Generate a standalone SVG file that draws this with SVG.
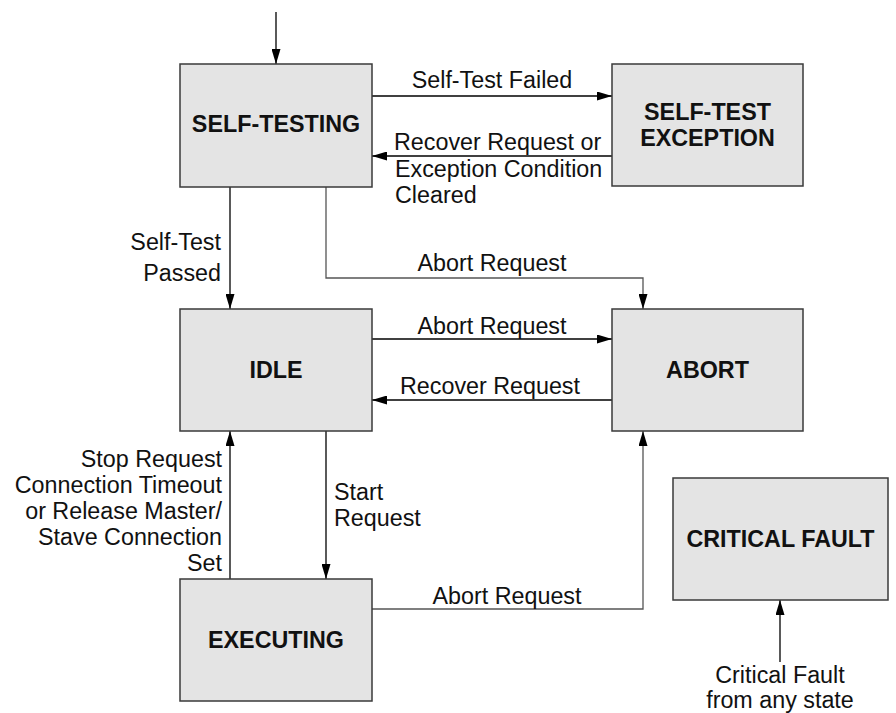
<svg xmlns="http://www.w3.org/2000/svg" width="896" height="713" viewBox="0 0 896 713">
<defs>
<marker id="ah" markerUnits="userSpaceOnUse" markerWidth="15" markerHeight="9" refX="15" refY="4.5" orient="auto"><path d="M0,0 L15,4.5 L0,9 z" fill="#000"/></marker>
</defs>
<style>
.node rect{fill:#e4e4e4;stroke:#3a3a3a;stroke-width:1.5}
.node text{font-family:"Liberation Sans",Arial,sans-serif;font-weight:bold;font-size:23.3px;text-anchor:middle;fill:#111}
.edge{fill:none;stroke:#000;stroke-width:1.3;marker-end:url(#ah)}
.edge.gray{stroke:#555}
.lbl{font-family:"Liberation Sans",Arial,sans-serif;font-size:23.3px;fill:#111}
.mid{text-anchor:middle}
.end{text-anchor:end}
</style>
<rect width="896" height="713" fill="#fff"/>
<g id="connectors">
<path class="edge" d="M276,12 V64"/>
<path class="edge" d="M372,96 H612"/>
<path class="edge" d="M612,156 H372"/>
<path class="edge" d="M230,187 V309"/>
<path class="edge gray" d="M326,187 V278 H643 V309"/>
<path class="edge" d="M372,339 H612"/>
<path class="edge" d="M612,400 H372"/>
<path class="edge" d="M326,431 V579"/>
<path class="edge" d="M230,579 V431"/>
<path class="edge gray" d="M372,609 H643 V431"/>
<path class="edge" d="M780,662 V600"/>
<text class="lbl mid" x="492" y="88">Self-Test Failed</text>
<text class="lbl" x="394" y="150">Recover Request or</text>
<text class="lbl" x="395" y="177">Exception Condition</text>
<text class="lbl" x="395" y="203">Cleared</text>
<text class="lbl end" x="221" y="250">Self-Test</text>
<text class="lbl end" x="221" y="281">Passed</text>
<text class="lbl mid" x="492" y="271">Abort Request</text>
<text class="lbl mid" x="492" y="334">Abort Request</text>
<text class="lbl mid" x="490" y="394">Recover Request</text>
<text class="lbl end" x="222" y="467">Stop Request</text>
<text class="lbl end" x="222" y="493">Connection Timeout</text>
<text class="lbl end" x="222" y="519">or Release Master/</text>
<text class="lbl end" x="222" y="545">Stave Connection</text>
<text class="lbl end" x="222" y="571">Set</text>
<text class="lbl" x="334" y="500">Start</text>
<text class="lbl" x="334" y="526">Request</text>
<text class="lbl mid" x="507" y="604">Abort Request</text>
<text class="lbl mid" x="780" y="683">Critical Fault</text>
<text class="lbl mid" x="780" y="708">from any state</text>
</g>
<g id="self-testing" class="node"><rect x="180" y="64" width="192" height="123"/><text x="276" y="132">SELF-TESTING</text></g>
<g id="self-test-exception" class="node"><rect x="612" y="64" width="191" height="122"/><text x="707.5" y="120">SELF-TEST</text><text x="707.5" y="146">EXCEPTION</text></g>
<g id="idle" class="node"><rect x="180" y="309" width="192" height="122"/><text x="276" y="378">IDLE</text></g>
<g id="abort" class="node"><rect x="612" y="309" width="191" height="122"/><text x="707.5" y="378">ABORT</text></g>
<g id="executing" class="node"><rect x="180" y="579" width="192" height="122"/><text x="276" y="648">EXECUTING</text></g>
<g id="critical-fault" class="node"><rect x="673" y="478" width="215" height="122"/><text x="780.5" y="547">CRITICAL FAULT</text></g>
</svg>
